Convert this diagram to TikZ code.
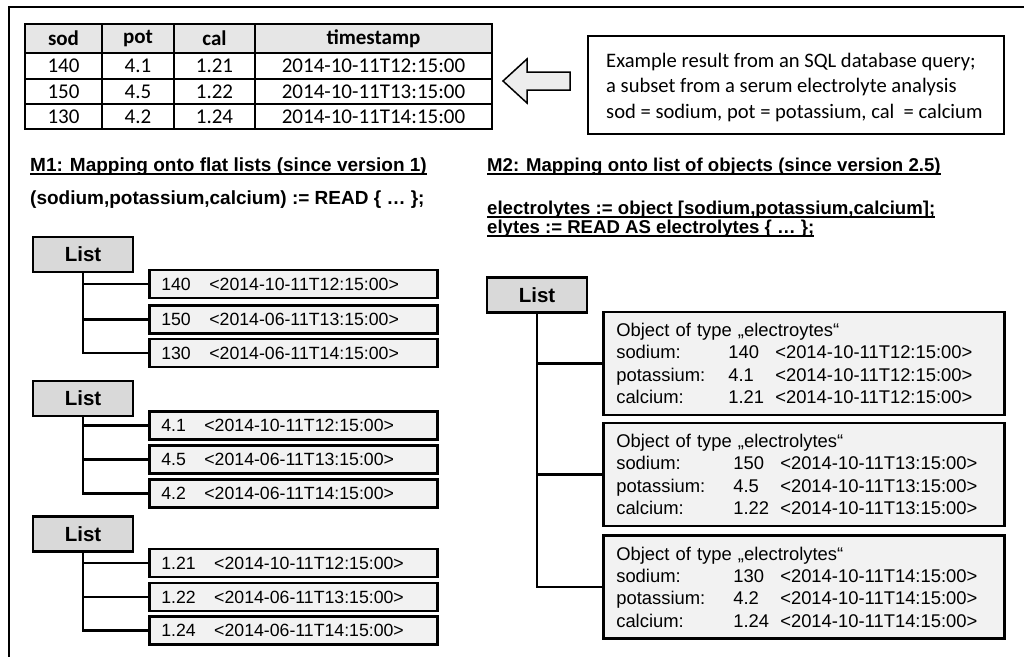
\documentclass[tikz,border=0pt]{standalone}
\usepackage{fontspec}
\setmainfont{Liberation Sans}
\newfontfamily\calib{Carlito}
\definecolor{listgray}{HTML}{D9D9D9}
\definecolor{itemgray}{HTML}{F2F2F2}
\definecolor{headgray}{HTML}{E6E6E6}
\definecolor{arrowgray}{HTML}{EDEDED}
\newcommand\myul[1]{\setbox0=\hbox{#1}\rlap{\rule[-3pt]{\wd0}{1.6pt}}\box0}
\newcommand\objline[4]{\makebox[#4][l]{#1}\makebox[47pt][l]{#2}#3}
\begin{document}
\begin{tikzpicture}[x=1pt,y=-1pt,
 listbox/.style={draw, line width=2.6pt, fill=listgray, minimum width=100pt, minimum height=35pt, inner sep=0pt, font=\fontsize{20.5}{24}\selectfont\bfseries},
 itembox/.style={draw, line width=2.6pt, fill=itemgray, text width=264pt, inner xsep=12pt, inner ysep=0pt, minimum height=28pt, align=left, anchor=west, font=\fontsize{17.7}{21}\selectfont},
 objbox/.style={draw, line width=2.6pt, fill=itemgray, text width=375pt, inner xsep=13pt, inner ysep=0pt, minimum height=103pt, align=left, anchor=west, font=\fontsize{18.4}{22.3}\selectfont},
 conn/.style={line width=2.6pt},
 heading/.style={anchor=west, inner sep=0pt, font=\fontsize{19}{22}\selectfont\bfseries},
 rheading/.style={anchor=west, inner sep=0pt, font=\fontsize{18.6}{22}\selectfont\bfseries},
 cell/.style={inner sep=0pt, font=\calib\fontsize{21}{25}\selectfont},
 hcell/.style={inner sep=0pt, font=\calib\fontsize{21}{25}\selectfont\bfseries},
 grid/.style={line width=2pt},
]
\useasboundingbox (0,0) rectangle (1024,657);
% outer frame (cropped at right and bottom)
\draw[line width=2pt] (1024,7) -- (9,7) -- (9,657);

% table
\fill[headgray] (25,24) rectangle (492,53);
\draw[grid] (25,53) -- (492,53);
\draw[grid] (25,79) -- (492,79);
\draw[grid] (25,104) -- (492,104);
\draw[grid] (102,24) -- (102,129);
\draw[grid] (174,24) -- (174,129);
\draw[grid] (255,24) -- (255,129);
\draw[line width=2.6pt] (25,24) rectangle (492,129);
\node[hcell] (h1) at (63.5,38.5) {sod};
\node[hcell] (h2) at (138,38.5) {pot};
\node[hcell] (h3) at (214.5,38.5) {cal};
\node[hcell] (h4) at (373.5,38.5) {timestamp};
\node[cell] (c11) at (63.5,66) {140};
\node[cell] (c12) at (138,66) {4.1};
\node[cell] (c13) at (214.5,66) {1.21};
\node[cell] (c14) at (373.5,66) {2014-10-11T12:15:00};
\node[cell] (c21) at (63.5,91.5) {150};
\node[cell] (c22) at (138,91.5) {4.5};
\node[cell] (c23) at (214.5,91.5) {1.22};
\node[cell] (c24) at (373.5,91.5) {2014-10-11T13:15:00};
\node[cell] (c31) at (63.5,116.5) {130};
\node[cell] (c32) at (138,116.5) {4.2};
\node[cell] (c33) at (214.5,116.5) {1.24};
\node[cell] (c34) at (373.5,116.5) {2014-10-11T14:15:00};

% hollow arrow
\draw[line width=1.5pt, fill=arrowgray, line join=miter] (503,81) -- (527,59) -- (527,72) -- (570,72) -- (570,90) -- (527,90) -- (527,103) -- cycle;

% note box
\node[draw, line width=2pt, anchor=north west, minimum width=416pt, minimum height=98pt, inner sep=0pt] (note) at (587,35) {};
\node[anchor=west, inner sep=0pt, align=left, font=\calib\fontsize{20.6}{25.5}\selectfont] (notetext) at (606,87.5) {Example result from an SQL database query;\\a subset from a serum electrolyte analysis\\sod = sodium, pot = potassium, cal\ \ = calcium};

% headings
\node[heading] (m1) at (30,167) {\myul{M1: Mapping onto flat lists (since version 1)}};
\node[heading] (code1) at (30,200) {(sodium,potassium,calcium) := READ \{ … \};};
\node[rheading] (m2) at (487,167) {\myul{M2: Mapping onto list of objects (since version 2.5)}};
\node[rheading] (code2) at (487,210) {\myul{electrolytes := object [sodium,potassium,calcium];}};
\node[rheading] (code3) at (487,229) {\myul{elytes := READ AS electrolytes \{ … \};}};

% M1 lists
\node[listbox] (L1) at (83,254.5) {List};
\node[itembox] (L1a) at (148,284) {140\hspace{18.5pt}<2014-10-11T12:15:00>};
\node[itembox] (L1b) at (148,319.5) {150\hspace{18.5pt}<2014-06-11T13:15:00>};
\node[itembox] (L1c) at (148,353) {130\hspace{18.5pt}<2014-06-11T14:15:00>};
\draw[conn] (L1.south) |- (L1a.west);
\draw[conn] (L1.south) |- (L1b.west);
\draw[conn] (L1.south) |- (L1c.west);

\node[listbox] (L2) at (83,398.5) {List};
\node[itembox] (L2a) at (148,425.5) {4.1\hspace{18.5pt}<2014-10-11T12:15:00>};
\node[itembox] (L2b) at (148,459.5) {4.5\hspace{18.5pt}<2014-06-11T13:15:00>};
\node[itembox] (L2c) at (148,493.5) {4.2\hspace{18.5pt}<2014-06-11T14:15:00>};
\draw[conn] (L2.south) |- (L2a.west);
\draw[conn] (L2.south) |- (L2b.west);
\draw[conn] (L2.south) |- (L2c.west);

\node[listbox] (L3) at (83,534) {List};
\node[itembox] (L3a) at (148,563) {1.21\hspace{18.5pt}<2014-10-11T12:15:00>};
\node[itembox] (L3b) at (148,597) {1.22\hspace{18.5pt}<2014-06-11T13:15:00>};
\node[itembox] (L3c) at (148,630.5) {1.24\hspace{18.5pt}<2014-06-11T14:15:00>};
\draw[conn] (L3.south) |- (L3a.west);
\draw[conn] (L3.south) |- (L3b.west);
\draw[conn] (L3.south) |- (L3c.west);

% M2 list of objects
\node[listbox] (R) at (537,295) {List};
\node[objbox] (O1) at (602,363.5) {Object of type „electroytes“\\
\objline{sodium:}{140}{<2014-10-11T12:15:00>}{112pt}\\
\objline{potassium:}{4.1}{<2014-10-11T12:15:00>}{112pt}\\
\objline{calcium:}{1.21}{<2014-10-11T12:15:00>}{112pt}};
\node[objbox] (O2) at (602,474.5) {Object of type „electrolytes“\\
\objline{sodium:}{150}{<2014-10-11T13:15:00>}{117pt}\\
\objline{potassium:}{4.5}{<2014-10-11T13:15:00>}{117pt}\\
\objline{calcium:}{1.22}{<2014-10-11T13:15:00>}{117pt}};
\node[objbox] (O3) at (602,587) {Object of type „electrolytes“\\
\objline{sodium:}{130}{<2014-10-11T14:15:00>}{117pt}\\
\objline{potassium:}{4.2}{<2014-10-11T14:15:00>}{117pt}\\
\objline{calcium:}{1.24}{<2014-10-11T14:15:00>}{117pt}};
\draw[conn] (R.south) |- (O1.west);
\draw[conn] (R.south) |- (O2.west);
\draw[conn] (R.south) |- (O3.west);
\end{tikzpicture}
\end{document}
